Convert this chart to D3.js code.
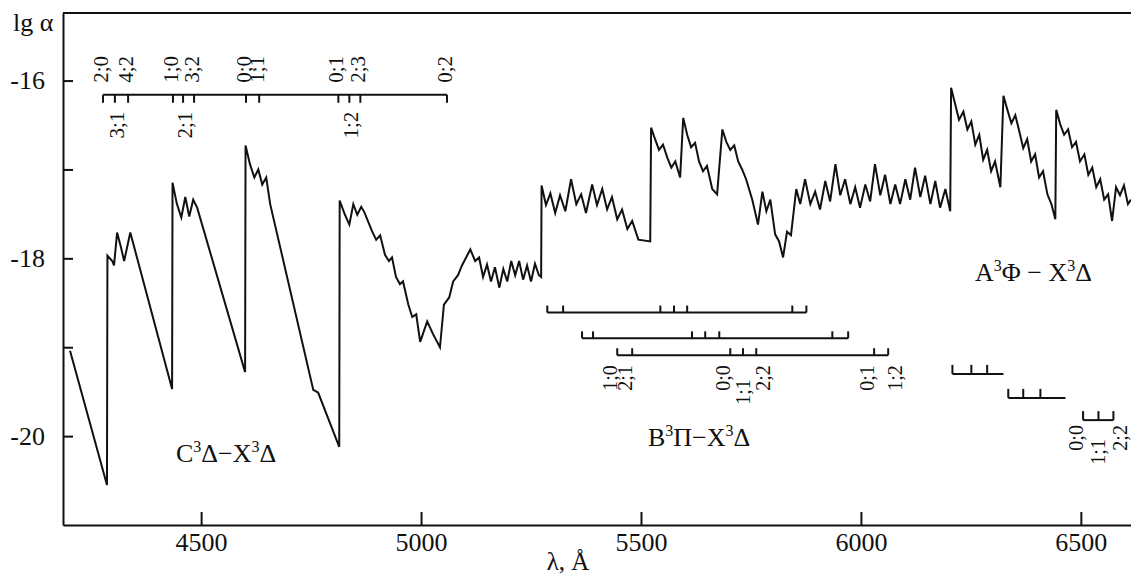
<!DOCTYPE html>
<html>
<head>
<meta charset="utf-8">
<script src="https://cdn.jsdelivr.net/npm/d3@7"></script>
<style>
  body { margin: 0; background: #fff; }
  svg { display: block; }
  svg text { font-family: "Liberation Serif", "DejaVu Serif", serif; }
</style>
</head>
<body>
<script>
// absorption spectrum, lg alpha against wavelength (Å)
const wavelength = [
  4202, 4286, 4287, 4298, 4302, 4309, 4318, 4325, 4339, 4434,
  4435, 4445, 4455, 4464, 4473, 4482, 4491, 4600,
  4601, 4611, 4621, 4630, 4639, 4648, 4657, 4755, 4766, 4814,
  4815, 4827, 4837, 4846, 4855, 4864, 4871, 4889, 4898, 4907, 4918, 4927, 4934,
  4943, 4952, 4959, 4971, 4980, 4989, 4998, 5014, 5027, 5043,
  5052, 5064, 5073, 5084, 5093, 5112, 5123, 5132, 5141, 5150, 5159, 5168, 5178,
  5187, 5196, 5205, 5214, 5223, 5232, 5241, 5250, 5259, 5268, 5273,
  5274, 5284, 5294, 5305, 5316, 5328, 5341, 5353, 5364, 5375, 5389, 5400, 5412,
  5423, 5434, 5446, 5457, 5469, 5480, 5494, 5521,
  5523, 5532, 5541, 5550, 5560, 5569, 5578, 5589,
  5596, 5605, 5614, 5623, 5632, 5641, 5650, 5662, 5673,
  5685, 5694, 5703, 5712, 5721, 5730, 5739, 5753, 5766, 5776, 5785, 5794, 5805,
  5814, 5823, 5832, 5841, 5853, 5862, 5873, 5885, 5896, 5907, 5919, 5930, 5942,
  5953, 5964, 5976, 5987, 5998, 6010, 6021, 6032, 6044, 6055, 6067, 6078, 6089,
  6101, 6112, 6123, 6135, 6146, 6158, 6169, 6180, 6192, 6203,
  6205, 6214, 6223, 6233, 6242, 6251, 6260, 6269, 6278, 6287, 6296, 6305, 6317,
  6324, 6333, 6342, 6351, 6360, 6369, 6378, 6387, 6396, 6405, 6414, 6424, 6433, 6442,
  6444, 6453, 6462, 6471, 6480, 6489, 6498, 6508, 6517, 6526, 6535, 6544, 6553,
  6562, 6571, 6580, 6589, 6598, 6607, 6614
];
const lgAlpha = [
  -19.04, -20.55, -17.97, -18.03, -18.08, -17.71, -17.88, -18.03, -17.71, -19.47,
  -17.15, -17.39, -17.54, -17.31, -17.53, -17.34, -17.43, -19.28,
  -16.73, -16.94, -17.09, -17.00, -17.17, -17.09, -17.39, -19.48, -19.51, -20.12,
  -17.35, -17.51, -17.62, -17.39, -17.51, -17.42, -17.48, -17.70, -17.79, -17.74, -17.96, -18.03, -17.99,
  -18.21, -18.29, -18.26, -18.52, -18.66, -18.63, -18.94, -18.71, -18.85, -19.00,
  -18.52, -18.44, -18.26, -18.19, -18.08, -17.90, -18.03, -17.99, -18.21, -18.07, -18.26, -18.10, -18.33,
  -18.12, -18.26, -18.03, -18.19, -18.03, -18.24, -18.08, -18.26, -18.06, -18.19, -18.21,
  -17.18, -17.40, -17.27, -17.49, -17.29, -17.47, -17.11, -17.39, -17.28, -17.49, -17.17, -17.40, -17.22,
  -17.45, -17.31, -17.56, -17.45, -17.67, -17.58, -17.79, -17.81,
  -16.53, -16.66, -16.78, -16.72, -16.87, -16.98, -16.91, -17.09,
  -16.42, -16.61, -16.75, -16.70, -16.91, -17.02, -16.96, -17.22, -17.28,
  -16.55, -16.69, -16.78, -16.73, -16.91, -17.00, -17.11, -17.34, -17.62, -17.25, -17.47, -17.34, -17.73,
  -17.81, -17.99, -17.70, -17.74, -17.22, -17.39, -17.11, -17.39, -17.25, -17.45, -17.13, -17.36, -16.94,
  -17.29, -17.11, -17.39, -17.20, -17.43, -17.17, -17.36, -16.94, -17.29, -17.06, -17.39, -17.17, -17.39,
  -17.11, -17.34, -16.98, -17.31, -17.07, -17.39, -17.13, -17.43, -17.22, -17.47,
  -16.08, -16.26, -16.44, -16.35, -16.55, -16.46, -16.72, -16.61, -16.89, -16.78, -17.02, -16.91, -17.20,
  -16.17, -16.33, -16.48, -16.39, -16.57, -16.76, -16.66, -16.91, -16.83, -17.09, -17.02, -17.28, -17.39, -17.56,
  -16.33, -16.49, -16.61, -16.55, -16.75, -16.69, -16.91, -16.83, -17.06, -16.98, -17.20, -17.11, -17.34,
  -17.28, -17.58, -17.20, -17.29, -17.18, -17.39, -17.34
];

const xTicks = [4500, 5000, 5500, 6000, 6500];
const yTicks = [-20, -19, -18, -17, -16];

// C3Δ–X3Δ band heads (top ladder)
const cHeads = [4277, 4304, 4334, 4436, 4459, 4484, 4602, 4632, 4812, 4837, 4862, 5059];
const cLabels = ["2;0", "3;1", "4;2", "1;0", "2;1", "3;2", "0;0", "1;1", "0;1", "1;2", "2;3", "0;2"];
const cBelow = [false, true, false, false, true, false, false, false, false, true, false, false];
const cLevel = -16.16;

// B3Π–X3Δ band heads, three sub-bands
const bHeads = [
  [5287, 5323, 5544, 5575, 5605, 5844, 5876],
  [5366, 5391, 5616, 5646, 5678, 5935, 5971],
  [5446, 5480, 5703, 5732, 5762, 6030, 6062]
];
const bLabels = ["1;0", "2;1", "0;0", "1;1", "2;2", "0;1", "1;2"];
const bLevels = [-18.61, -18.90, -19.09];

// A3Φ–X3Δ band heads
const aHeads = [
  [6208, 6251, 6287],
  [6335, 6369, 6408],
  [6505, 6540, 6574]
];
const aEnds = [6324, 6465, 6574];
const aLabels = ["0;0", "1;1", "2;2"];
const aLevels = [-19.30, -19.57, -19.82];

const width = 1131, height = 578;
const serif = "Liberation Serif, DejaVu Serif, serif";
const x = d3.scaleLinear().domain([4186, 6614]).range([63, 1131]);
const y = d3.scaleLinear().domain([-21, -15.24]).range([525, 13]);

const svg = d3.select("body").append("svg")
    .attr("width", width)
    .attr("height", height)
    .attr("font-family", serif);

// axes
svg.append("g")
    .attr("transform", `translate(0,${y(-21)})`)
    .call(d3.axisBottom(x).tickValues(xTicks).tickSizeInner(-13).tickSizeOuter(0).tickPadding(8).tickFormat(d3.format("d")));
svg.append("g")
    .attr("transform", `translate(${x(4186)},0)`)
    .call(d3.axisLeft(y).tickValues(yTicks).tickSizeInner(-10).tickSizeOuter(0).tickPadding(18)
      .tickFormat(d => d % 2 === 0 ? "-" + Math.abs(d) : ""));
svg.selectAll(".domain, .tick line").attr("stroke", "#111").attr("stroke-width", 2);
svg.selectAll("g").attr("font-family", serif);
svg.selectAll(".tick text").attr("font-size", 26).attr("fill", "#111");

svg.append("line")
    .attr("x1", x(4186)).attr("x2", x(6614))
    .attr("y1", y(-15.24)).attr("y2", y(-15.24))
    .attr("stroke", "#111").attr("stroke-width", 2);

svg.append("text").attr("x", 13).attr("y", 31).attr("font-size", 26).attr("fill", "#111").text("lg α");
svg.append("text").attr("x", 568).attr("y", 570).attr("font-size", 25).attr("fill", "#111")
    .attr("text-anchor", "middle").text("λ, Å");

// spectrum
const line = d3.line().x((d, i) => x(wavelength[i])).y((d, i) => y(lgAlpha[i]));
svg.append("path")
    .datum(wavelength)
    .attr("fill", "none")
    .attr("stroke", "#111")
    .attr("stroke-width", 2)
    .attr("d", line);

// ladders
const lad = svg.append("g").attr("stroke", "#111").attr("stroke-width", 2).attr("fill", "none");
function ladder(heads, level, end, tickLen) {
  const y0 = y(level);
  lad.append("path").attr("d", `M${x(heads[0])},${y0}H${x(end)}`);
  heads.forEach(h => lad.append("path").attr("d", `M${x(h)},${y0}v${tickLen}`));
}
ladder(cHeads, cLevel, cHeads[cHeads.length - 1], 8);
bHeads.forEach((hs, i) => ladder(hs, bLevels[i], hs[hs.length - 1], -7));
aHeads.forEach((hs, i) => ladder(hs, aLevels[i], aEnds[i], -9));

const lbl = svg.append("g").attr("fill", "#111").attr("font-family", serif);
function vlabel(px, py, txt, anchor, size, baseline) {
  lbl.append("text")
      .attr("transform", `translate(${px},${py}) rotate(-90)`)
      .attr("text-anchor", anchor)
      .attr("dominant-baseline", baseline)
      .attr("font-size", size)
      .text(txt);
}
cHeads.forEach((h, i) => {
  const y0 = y(cLevel);
  if (cBelow[i]) vlabel(x(h) + 2, y0 + 17, cLabels[i], "end", 21, "central");
  else vlabel(x(h) - 2, y0 - 12, cLabels[i], "start", 21, "central");
});
// labels under the lowest sub-band ladders
function headLabels(heads, labels, level, gap) {
  const y0 = y(level) + gap;
  heads.forEach((h, i) => {
    const t = labels[i];
    let px = x(h), py = y0, base = "auto";
    if (t === "1;1") { base = "central"; py += 14; }
    else if (t === "2;2" || t === "1;2") px += 14;
    vlabel(px, py, t, "end", 20, base);
  });
}
headLabels(bHeads[2], bLabels, bLevels[2], 10);
headLabels(aHeads[2], aLabels, aLevels[2], 5);

// band system names
function sysLabel(px, py, parts) {
  const t = svg.append("text").attr("x", px).attr("y", py).attr("font-size", 26).attr("fill", "#111");
  parts.forEach(p => {
    if (p[1]) t.append("tspan").attr("font-size", 16).attr("dy", -10).text(p[0]);
    else t.append("tspan").attr("dy", p[2] ? 10 : 0).text(p[0]);
  });
}
sysLabel(176, 462, [["C"], ["3", true], ["Δ−X", false, true], ["3", true], ["Δ", false, true]]);
sysLabel(648, 446, [["B"], ["3", true], ["Π−X", false, true], ["3", true], ["Δ", false, true]]);
sysLabel(975, 281, [["A"], ["3", true], ["Φ − X", false, true], ["3", true], ["Δ", false, true]]);
</script>
</body>
</html>
